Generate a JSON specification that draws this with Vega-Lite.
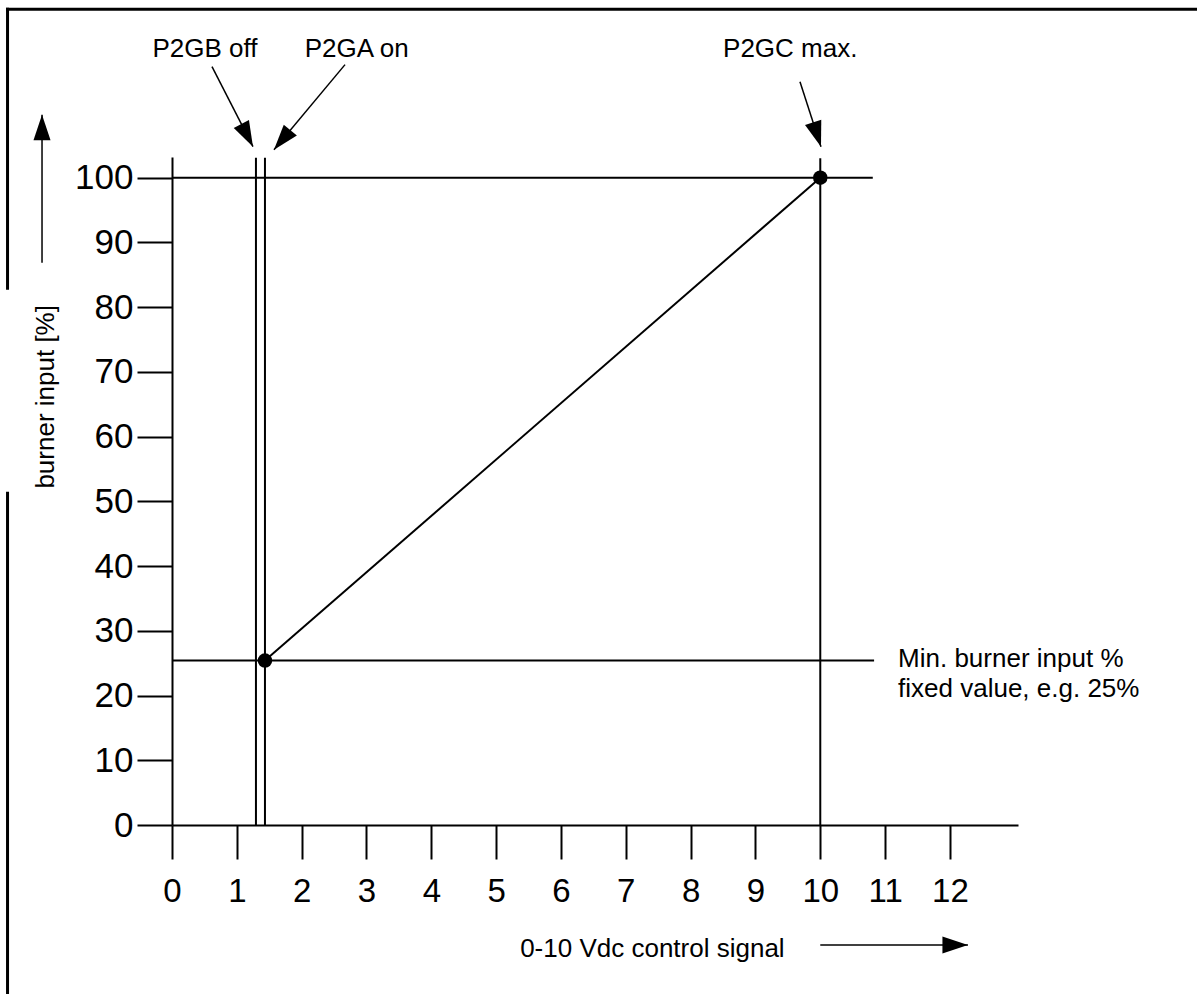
{
  "$schema": "https://vega.github.io/schema/vega-lite/v6.json",
  "width": 846,
  "height": 668,
  "autosize": {"type": "none"},
  "padding": {"left": 172, "top": 157, "right": 179, "bottom": 169},
  "background": "white",
  "config": {"view": {"stroke": null}, "font": "Liberation Sans"},
  "datasets": {
    "segments": [
      {"kind": "plot", "x": 0, "y": 100, "x2": 10.81, "y2": 100},
      {"kind": "plot", "x": 0, "y": 25.4, "x2": 10.83, "y2": 25.4},
      {"kind": "plot", "x": 1.295, "y": 0, "x2": 1.295, "y2": 103.1},
      {"kind": "plot", "x": 1.434, "y": 0, "x2": 1.434, "y2": 103.1},
      {"kind": "plot", "x": 10, "y": 0, "x2": 10, "y2": 103.0},
      {"kind": "plot", "x": 1.434, "y": 25.4, "x2": 10, "y2": 100},
      {"kind": "arrow", "x": 0.617, "y": 117.16, "x2": 1.249, "y2": 104.79},
      {"kind": "arrow", "x": 2.669, "y": 117.47, "x2": 1.573, "y2": 104.33},
      {"kind": "arrow", "x": 9.687, "y": 114.84, "x2": 10.011, "y2": 104.79},
      {"kind": "arrow", "x": -2.005, "y": 86.86, "x2": -2.005, "y2": 109.74},
      {"kind": "arrow", "x": 10.0, "y": -18.55, "x2": 12.278, "y2": -18.55},
      {"kind": "frame", "x": -2.56, "y": 126.04, "x2": 16, "y2": 126.04},
      {"kind": "frame", "x": -2.537, "y": 126.27, "x2": -2.537, "y2": 82.69},
      {"kind": "frame", "x": -2.537, "y": 51.47, "x2": -2.537, "y2": -27}
    ],
    "dots": [
      {"x": 1.434, "y": 25.4},
      {"x": 10, "y": 100}
    ],
    "heads": [
      {"arrow": "P2GB", "x": 1.249, "y": 104.79},
      {"arrow": "P2GA", "x": 1.573, "y": 104.33},
      {"arrow": "P2GC", "x": 10.011, "y": 104.79},
      {"arrow": "yaxis", "x": -2.005, "y": 109.74},
      {"arrow": "xaxis", "x": 12.278, "y": -18.55}
    ],
    "notes": [
      {"text": "P2GB off", "x": 0.509, "y": 118.7},
      {"text": "P2GA on", "x": 2.849, "y": 118.7},
      {"text": "P2GC max.", "x": 9.537, "y": 118.7},
      {"text": "0-10 Vdc control signal", "x": 7.41, "y": -20.4}
    ],
    "sidenotes": [
      {"text": "Min. burner input %", "x": 11.2, "y": 24.42},
      {"text": "fixed value, e.g. 25%", "x": 11.2, "y": 19.78}
    ],
    "ytitle": [
      {"text": "burner input [%]", "x": -1.82, "y": 66.15}
    ]
  },
  "encoding": {
    "x": {
      "field": "x", "type": "quantitative",
      "scale": {"domain": [0, 13.05], "nice": false, "zero": false},
      "axis": {
        "title": null, "grid": false,
        "values": [0, 1, 2, 3, 4, 5, 6, 7, 8, 9, 10, 11, 12],
        "domainColor": "black", "domainWidth": 2,
        "tickColor": "black", "tickWidth": 2, "tickSize": 34,
        "labelColor": "black", "labelFont": "Liberation Sans", "labelFontSize": 33,
        "labelPadding": 16, "labelFlush": false, "labelOverlap": false, "labelBound": false
      }
    },
    "y": {
      "field": "y", "type": "quantitative",
      "scale": {"domain": [0, 103.2], "nice": false, "zero": false},
      "axis": {
        "title": null, "grid": false,
        "values": [0, 10, 20, 30, 40, 50, 60, 70, 80, 90, 100],
        "domainColor": "black", "domainWidth": 2,
        "tickColor": "black", "tickWidth": 2, "tickSize": 35,
        "labelColor": "black", "labelFont": "Liberation Sans", "labelFontSize": 35,
        "labelPadding": 4, "labelFlush": false, "labelOverlap": false, "labelBound": false
      }
    }
  },
  "layer": [
    {
      "data": {"name": "segments"},
      "transform": [{"filter": "datum.kind === 'plot'"}],
      "mark": {"type": "rule", "color": "black", "strokeWidth": 2},
      "encoding": {"x2": {"field": "x2"}, "y2": {"field": "y2"}}
    },
    {
      "data": {"name": "segments"},
      "transform": [{"filter": "datum.kind === 'arrow'"}],
      "mark": {"type": "rule", "color": "black", "strokeWidth": 1.5},
      "encoding": {"x2": {"field": "x2"}, "y2": {"field": "y2"}}
    },
    {
      "data": {"name": "segments"},
      "transform": [{"filter": "datum.kind === 'frame'"}],
      "mark": {"type": "rule", "color": "black", "strokeWidth": 3},
      "encoding": {"x2": {"field": "x2"}, "y2": {"field": "y2"}}
    },
    {
      "data": {"name": "dots"},
      "mark": {"type": "circle", "color": "black", "opacity": 1, "size": 210}
    },
    {
      "data": {"name": "heads"},
      "mark": {"type": "point", "shape": "M0,0 L-0.67,-2 L0.67,-2 Z", "filled": true, "color": "black", "opacity": 1, "size": 650, "strokeWidth": 0},
      "encoding": {
        "angle": {
          "field": "arrow", "type": "nominal",
          "scale": {"type": "ordinal", "domain": ["P2GB", "P2GA", "P2GC", "yaxis", "xaxis"], "range": [332.9, 39.9, 342.1, 180, 270]},
          "legend": null
        }
      }
    },
    {
      "data": {"name": "notes"},
      "mark": {"type": "text", "align": "center", "baseline": "alphabetic", "fontSize": 26, "font": "Liberation Sans", "color": "black"},
      "encoding": {"text": {"field": "text"}}
    },
    {
      "data": {"name": "sidenotes"},
      "mark": {"type": "text", "align": "left", "baseline": "alphabetic", "fontSize": 26, "font": "Liberation Sans", "color": "black"},
      "encoding": {"text": {"field": "text"}}
    },
    {
      "data": {"name": "ytitle"},
      "mark": {"type": "text", "align": "center", "baseline": "alphabetic", "angle": 270, "fontSize": 26, "font": "Liberation Sans", "color": "black"},
      "encoding": {"text": {"field": "text"}}
    }
  ]
}
